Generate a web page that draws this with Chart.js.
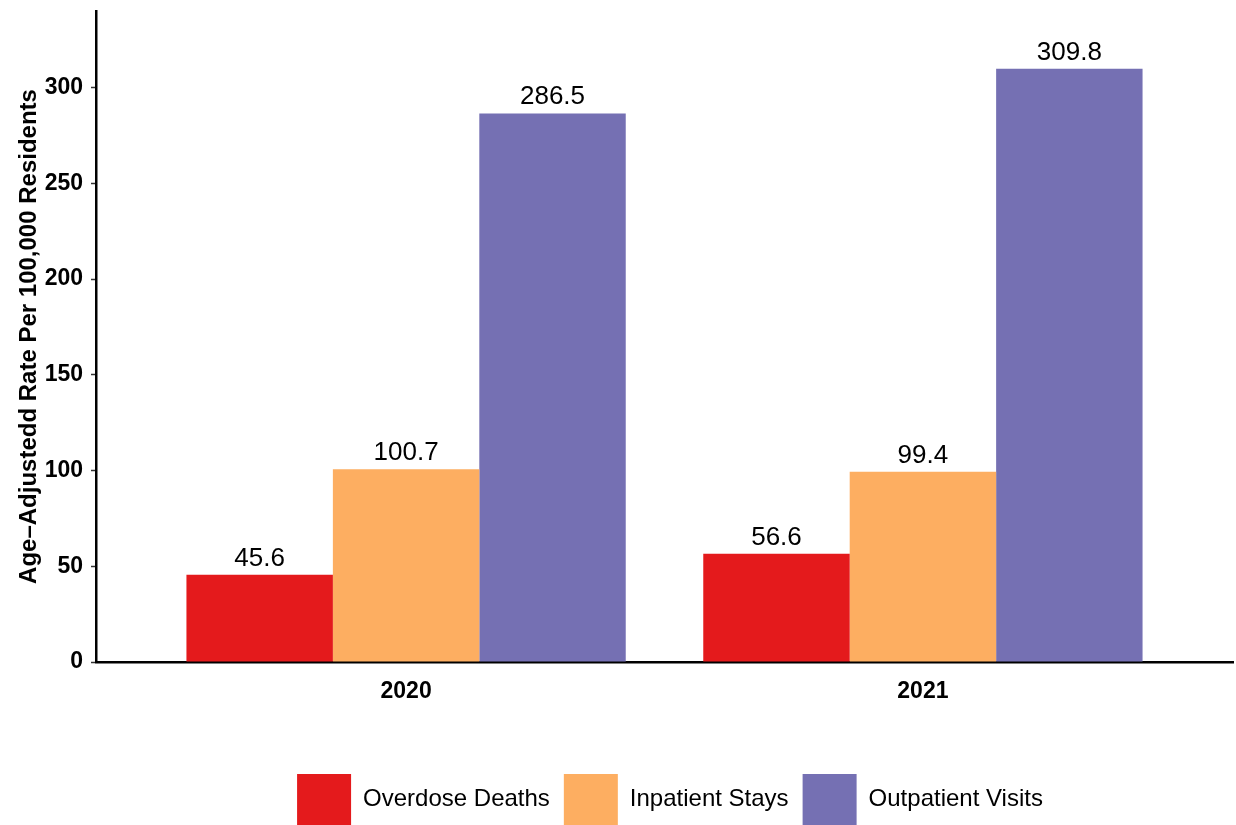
<!DOCTYPE html>
<html>
<head>
    <script src="https://cdn.jsdelivr.net/npm/chart.js@4.4.1/dist/chart.umd.min.js"></script>
    <style>
        body { margin: 0; background: #fff; }
    </style>
</head>
<body>
    <canvas id="grafico" width="1236" height="825"></canvas>

    <script>
        // data
        const anni = ['2020', '2021'];
        const serie = ['Overdose Deaths', 'Inpatient Stays', 'Outpatient Visits'];
        const overdose = [45.6, 56.6];
        const inpatient = [100.7, 99.4];
        const outpatient = [286.5, 309.8];
        const yTicks = [0, 50, 100, 150, 200, 250, 300];
        const colori = ['#E41A1C', '#FDAE61', '#7570B3'];

        const font = "'Liberation Sans', Arial, sans-serif";

        function punti(valori) {
            return valori.map((v, i) => ({ x: i + 1, y: v }));
        }

        // value labels above each bar
        const etichette = {
            id: 'etichette',
            afterDatasetsDraw(chart) {
                const ctx = chart.ctx;
                ctx.save();
                ctx.font = '26px ' + font;
                ctx.fillStyle = '#000';
                ctx.textAlign = 'center';
                ctx.textBaseline = 'alphabetic';
                chart.data.datasets.forEach((ds, i) => {
                    chart.getDatasetMeta(i).data.forEach((el, j) => {
                        ctx.fillText(ds.data[j].y.toFixed(1), el.x, el.y - 9);
                    });
                });
                ctx.restore();
            }
        };

        // legend sits centred under the panel, not the canvas
        const spostaLegenda = {
            id: 'spostaLegenda',
            afterLayout(chart) {
                const dx = (chart.chartArea.left + chart.chartArea.right) / 2 - chart.width / 2 + 7;
                chart.legend.left += dx;
                chart.legend.right += dx;
            }
        };

        let ctx = document.getElementById('grafico').getContext('2d');
        let chart = new Chart(ctx, {
            type: 'bar',
            data: {
                datasets: [
                    { label: serie[0], data: punti(overdose), backgroundColor: colori[0] },
                    { label: serie[1], data: punti(inpatient), backgroundColor: colori[1] },
                    { label: serie[2], data: punti(outpatient), backgroundColor: colori[2] }
                ]
            },
            options: {
                responsive: false,
                animation: false,
                layout: { padding: { top: 11, right: 3, left: 0, bottom: -10 } },
                categoryPercentage: 0.85,
                barPercentage: 1,
                plugins: {
                    tooltip: { enabled: false },
                    legend: {
                        position: 'bottom',
                        labels: {
                            boxWidth: 54,
                            boxHeight: 51,
                            padding: 14,
                            color: '#000',
                            font: { family: font, size: 24 }
                        }
                    }
                },
                scales: {
                    x: {
                        type: 'linear',
                        offset: false,
                        min: 0.4,
                        max: 2.6,
                        grid: { display: false, offset: false },
                        border: { display: true, color: '#000', width: 2.5 },
                        afterBuildTicks: s => { s.ticks = anni.map((a, i) => ({ value: i + 1 })); },
                        afterFit: s => { s.height = 98; },
                        ticks: {
                            padding: 8,
                            color: '#000',
                            font: { family: font, size: 23, weight: 'bold' },
                            callback: v => anni[v - 1]
                        }
                    },
                    y: {
                        min: 0,
                        max: 340,
                        grid: { display: true, drawOnChartArea: false, tickLength: 5, tickColor: '#333', tickWidth: 1.5 },
                        border: { display: true, color: '#000', width: 2.5 },
                        afterBuildTicks: s => { s.ticks = yTicks.map(v => ({ value: v })); },
                        afterFit: s => { s.width = 96; s.paddingTop = 0; s.paddingBottom = 0; },
                        ticks: {
                            padding: 8,
                            color: '#000',
                            font: { family: font, size: 23, weight: 'bold' }
                        },
                        title: {
                            display: true,
                            text: 'Age–Adjustedd Rate Per 100,000 Residents',
                            color: '#000',
                            padding: { top: 15, bottom: 0 },
                            font: { family: font, size: 24, weight: 'bold' }
                        }
                    }
                }
            },
            plugins: [etichette, spostaLegenda]
        });
    </script>
</body>
</html>
